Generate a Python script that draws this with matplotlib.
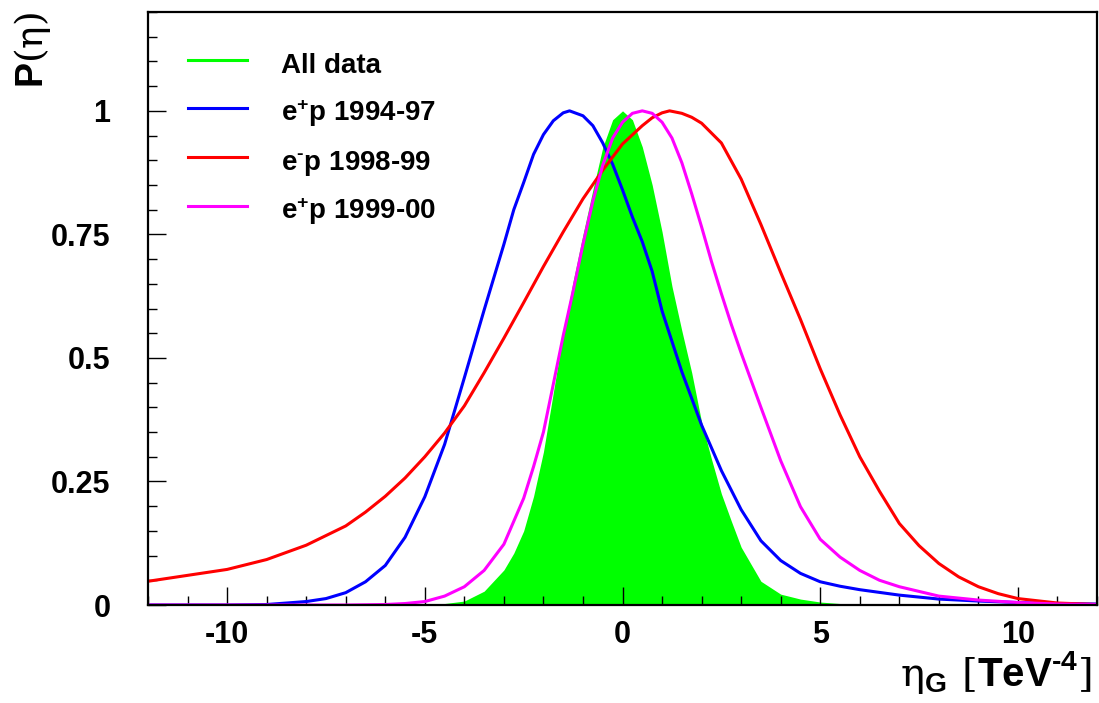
import numpy as np
import matplotlib
matplotlib.use("Agg")
import matplotlib.pyplot as plt
from matplotlib.ticker import MultipleLocator

# values
x_all = [-12, -6, -5, -4.5, -4, -3.5, -3, -2.75, -2.5, -2.25, -2, -1.75, -1.5, -1.25, -1, -0.75, -0.5, -0.25, 0,
         0.25, 0.5, 0.75, 1, 1.25, 1.5, 1.75, 2, 2.25, 2.5, 2.75, 3, 3.5, 4, 4.5, 5, 5.5, 6, 12]
p_all = [0, 0, 0.001, 0.003, 0.008, 0.028, 0.071, 0.105, 0.15, 0.22, 0.31, 0.43, 0.55, 0.655, 0.75, 0.84, 0.926, 0.982, 1.0,
         0.982, 0.927, 0.85, 0.755, 0.645, 0.555, 0.47, 0.37, 0.295, 0.225, 0.17, 0.117, 0.048, 0.022, 0.012, 0.006, 0.003, 0.001, 0]

x_9497 = [-12, -10, -9, -8, -7.5, -7, -6.5, -6, -5.5, -5, -4.5, -4, -3.5, -3, -2.75, -2.5, -2.25, -2, -1.75, -1.5, -1.34,
          -1, -0.75, -0.5, -0.25, 0, 0.25, 0.5, 0.75, 1, 1.5, 2, 2.5, 3, 3.5, 4, 4.5, 5, 5.5, 6, 7, 8, 9, 10, 11, 12]
p_9497 = [0, 0, 0.001, 0.007, 0.013, 0.025, 0.047, 0.08, 0.137, 0.219, 0.325, 0.46, 0.597, 0.73, 0.80, 0.855, 0.912, 0.952, 0.98, 0.996, 1.0,
          0.99, 0.97, 0.935, 0.892, 0.84, 0.785, 0.735, 0.675, 0.595, 0.472, 0.364, 0.272, 0.193, 0.13, 0.09, 0.064, 0.047, 0.038, 0.031,
          0.02, 0.012, 0.008, 0.005, 0.003, 0.002]

x_9899 = [-12, -11, -10, -9, -8, -7, -6.5, -6, -5.5, -5, -4.5, -4, -3.5, -3, -2.5, -2, -1.5, -1, -0.5, 0, 0.5, 0.75,
          1, 1.19, 1.5, 1.75, 2, 2.5, 3, 3.5, 4, 4.5, 5, 5.5, 6, 6.5, 7, 7.5, 8, 8.5, 9, 9.5, 10, 11, 12]
p_9899 = [0.048, 0.06, 0.072, 0.092, 0.121, 0.160, 0.188, 0.22, 0.257, 0.30, 0.348, 0.403, 0.47, 0.54, 0.612, 0.685, 0.755, 0.822, 0.88, 0.933, 0.97, 0.986,
          0.996, 1.0, 0.995, 0.987, 0.975, 0.935, 0.862, 0.77, 0.673, 0.578, 0.478, 0.385, 0.30, 0.23, 0.165, 0.12, 0.084, 0.057, 0.037, 0.023, 0.013, 0.004, 0.001]

x_9900 = [-12, -7, -6, -5.5, -5, -4.5, -4, -3.5, -3, -2.5, -2.25, -2, -1.75, -1.5, -1.25, -1, -0.75, -0.5, -0.25, 0, 0.25, 0.5,
          0.75, 1, 1.25, 1.5, 1.75, 2, 2.25, 2.5, 2.75, 3, 3.25, 3.5, 4, 4.5, 5, 5.5, 6, 6.5, 7, 8, 9, 10, 11, 12]
p_9900 = [0, 0, 0.001, 0.003, 0.007, 0.018, 0.037, 0.07, 0.123, 0.216, 0.28, 0.35, 0.447, 0.545, 0.635, 0.73, 0.817, 0.89, 0.945, 0.977, 0.995, 1.0,
          0.995, 0.977, 0.945, 0.895, 0.832, 0.765, 0.695, 0.63, 0.568, 0.51, 0.455, 0.40, 0.292, 0.199, 0.133, 0.097, 0.07, 0.05, 0.037, 0.018, 0.01, 0.005, 0.002, 0.001]

HY = "\u2010"  # short hyphen, mathtext turns '-' into a long minus
labels = ["All data", "$e^{+}p$ 1994-97", "$e^{" + HY + "}p$ 1998-99", "$e^{+}p$ 1999-00"]
colors = ['#00ff00', '#0000ff', '#ff0000', '#ff00ff']
yticks = [0, 0.25, 0.5, 0.75, 1]
ytick_labels = ["0", "0.25", "0.5", "0.75", "1"]
xticks = [-10, -5, 0, 5, 10]

plt.rcParams['font.family'] = ['Liberation Sans', 'DejaVu Sans']
plt.rcParams['font.weight'] = 'bold'
plt.rcParams['axes.unicode_minus'] = False
plt.rcParams['mathtext.fontset'] = 'custom'
plt.rcParams['mathtext.rm'] = 'DejaVu Serif:weight=normal'
plt.rcParams['mathtext.bf'] = 'Liberation Sans:bold'
plt.rcParams['mathtext.default'] = 'bf'

fig = plt.figure(figsize=(10.99, 7.03), dpi=100)
ax = fig.add_axes([0.1347, 0.1394, 0.8635, 0.8435])

ax.fill_between(x_all, p_all, 0, color=colors[0], lw=0)
ax.plot([], [], color=colors[0], lw=2.2, label=labels[0])
ax.plot(x_9497, p_9497, color=colors[1], lw=2.2, label=labels[1])
ax.plot(x_9899, p_9899, color=colors[2], lw=2.2, label=labels[2])
ax.plot(x_9900, p_9900, color=colors[3], lw=2.2, label=labels[3])

ax.set_xlim(-12, 12)
ax.set_ylim(0, 1.2)
ax.set_xticks(xticks)
ax.set_yticks(yticks)
ax.set_yticklabels(ytick_labels)
ax.xaxis.set_minor_locator(MultipleLocator(1))
ax.yaxis.set_minor_locator(MultipleLocator(0.05))
ax.tick_params(which='both', direction='in', top=False, right=False, width=1.0, labelsize=22)
ax.tick_params(which='major', length=13)
ax.tick_params(which='minor', length=6.5)
ax.tick_params(axis='y', pad=27)
ax.tick_params(axis='x', pad=11)
for s in ax.spines.values():
    s.set_linewidth(1.6)

leg = ax.legend(loc='upper left', bbox_to_anchor=(0.042, 0.940),
                frameon=False, fontsize=20, handlelength=2.12, handletextpad=1.22,
                handleheight=1.4, labelspacing=0.57, borderpad=0, borderaxespad=0)

ax.text(-0.122, 1.0, r"$\mathbf{P}\mathrm{(\eta)}$", transform=ax.transAxes, rotation=90,
        ha='center', va='top', fontsize=27)
ax.text(0.995, -0.137, "$\\mathrm{\\eta}_{G}\\ \\mathrm{[}TeV^{" + HY + "4}\\mathrm{]}$",
        transform=ax.transAxes, ha='right', va='baseline', fontsize=29)

fig.savefig("out.png", dpi=100)
